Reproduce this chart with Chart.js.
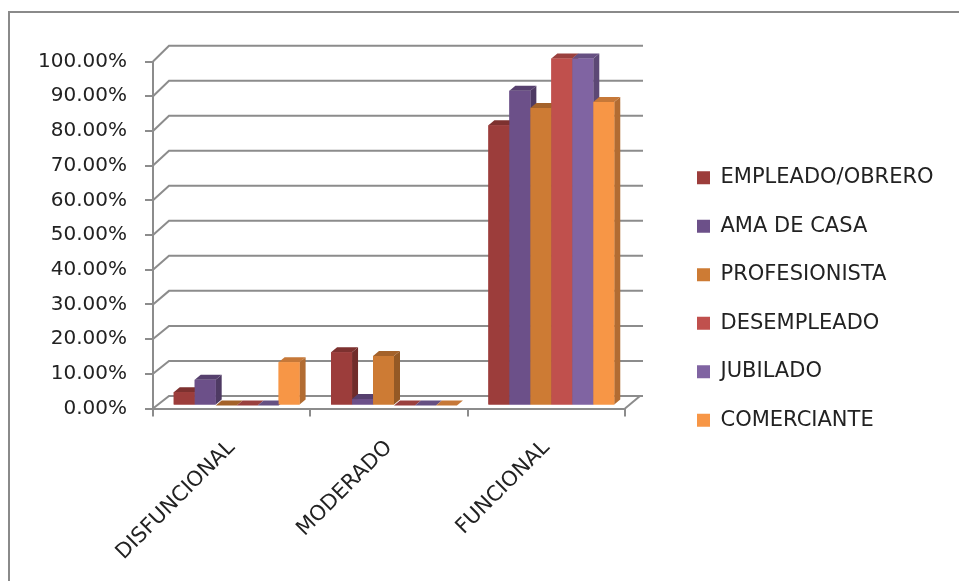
<!DOCTYPE html>
<html>
<head>
<meta charset="utf-8">
<script src="https://cdn.jsdelivr.net/npm/chart.js@4.4.1/dist/chart.umd.min.js"></script>
<style>
  html, body { margin: 0; padding: 0; background: #ffffff; }
  #wrap { width: 959px; height: 581px; }
</style>
</head>
<body>
<div id="wrap"><canvas id="chart" width="959" height="581"></canvas></div>
<script>
// Categories and series (percent of each occupation group)
const categories = ['DISFUNCIONAL', 'MODERADO', 'FUNCIONAL'];
const seriesNames = ['EMPLEADO/OBRERO', 'AMA DE CASA', 'PROFESIONISTA', 'DESEMPLEADO', 'JUBILADO', 'COMERCIANTE'];
const empleadoObrero = [3.85, 15.38, 80.77];
const amaDeCasa = [7.41, 1.85, 90.74];
const profesionista = [0, 14.29, 85.71];
const desempleado = [0, 0, 100];
const jubilado = [0, 0, 100];
const comerciante = [12.5, 0, 87.5];
const yTickValues = [0, 10, 20, 30, 40, 50, 60, 70, 80, 90, 100];
const seriesColors = ['#9C3D3B', '#6C5089', '#CD7B34', '#C0504D', '#8064A2', '#F79646'];

const seriesValues = [empleadoObrero, amaDeCasa, profesionista, desempleado, jubilado, comerciante];

// 3-D look: back wall depth, bar depth and bar placement inside the floor
const WALL_DX = 16;
function wallLift(v) { return 12.6 + 3.1 * v / 100; }
const BAR_SHIFT = { x: 5, y: -3 };
const BAR_DEPTH = { x: 6, y: -5 };
const LINE_GREY = '#8c8c8c';

function shade(hex, f) {
  const n = parseInt(hex.slice(1), 16);
  const r = Math.round(((n >> 16) & 255) * f);
  const g = Math.round(((n >> 8) & 255) * f);
  const b = Math.round((n & 255) * f);
  return 'rgb(' + r + ',' + g + ',' + b + ')';
}

const frame3d = {
  id: 'frame3d',
  beforeDraw(chart) {
    const { ctx, width, height, chartArea } = chart;
    const yScale = chart.scales.y;
    ctx.save();
    ctx.fillStyle = '#ffffff';
    ctx.fillRect(0, 0, width, height);
    // outer frame
    ctx.strokeStyle = '#8a8a8a';
    ctx.lineWidth = 2;
    ctx.beginPath();
    ctx.moveTo(9, height + 4);
    ctx.lineTo(9, 12);
    ctx.lineTo(width + 4, 12);
    ctx.stroke();
    // back wall gridlines with their side-wall diagonals
    ctx.strokeStyle = LINE_GREY;
    ctx.lineWidth = 2;
    yTickValues.forEach(v => {
      const fy = yScale.getPixelForValue(v);
      const by = fy - wallLift(v);
      ctx.beginPath();
      ctx.moveTo(chartArea.left, fy);
      ctx.lineTo(chartArea.left + WALL_DX, by);
      ctx.lineTo(chartArea.right + 18, by);
      ctx.stroke();
    });
    // right edge of the floor
    const fy0 = yScale.getPixelForValue(0);
    ctx.beginPath();
    ctx.moveTo(chartArea.right, fy0);
    ctx.lineTo(chartArea.right + 15, fy0 - wallLift(0));
    ctx.stroke();
    ctx.restore();
  },
  beforeDatasetsDraw(chart) {
    chart.ctx.save();
    chart.ctx.translate(BAR_SHIFT.x, BAR_SHIFT.y);
  },
  afterDatasetsDraw(chart) {
    // paint the columns left to right: side, top, then the front face on top
    const ctx = chart.ctx;
    const dx = BAR_DEPTH.x, dy = BAR_DEPTH.y;
    chart.data.datasets.forEach((ds, i) => {
      const meta = chart.getDatasetMeta(i);
      const col = ds.backgroundColor;
      meta.data.forEach(bar => {
        const { x, y, base, width } = bar.getProps(['x', 'y', 'base', 'width'], true);
        const l = x - width / 2, r = x + width / 2;
        const top = Math.min(y, base), bottom = Math.max(y, base);
        ctx.fillStyle = shade(col, 0.72);
        ctx.beginPath();
        ctx.moveTo(r, top);
        ctx.lineTo(r + dx, top + dy);
        ctx.lineTo(r + dx, bottom + dy);
        ctx.lineTo(r, bottom);
        ctx.closePath();
        ctx.fill();
        ctx.fillStyle = shade(col, 0.8);
        ctx.beginPath();
        ctx.moveTo(l, top);
        ctx.lineTo(l + dx, top + dy);
        ctx.lineTo(r + dx, top + dy);
        ctx.lineTo(r, top);
        ctx.closePath();
        ctx.fill();
        bar.draw(ctx);
      });
    });
    ctx.restore();
  }
};

const datasets = seriesNames.map((name, i) => ({
  label: name,
  data: seriesValues[i],
  backgroundColor: seriesColors[i],
  borderWidth: 0,
  barPercentage: 1.0,
  categoryPercentage: 0.8,
  clip: false
}));

new Chart(document.getElementById('chart'), {
  type: 'bar',
  data: { labels: categories, datasets },
  plugins: [frame3d],
  options: {
    responsive: false,
    animation: false,
    events: [],
    layout: { padding: { top: 17, left: 0, right: 17.5, bottom: 0 } },
    scales: {
      x: {
        grid: { display: true, drawOnChartArea: false, drawTicks: true, tickLength: 8, offset: true, color: LINE_GREY, lineWidth: 2 },
        border: { display: true, color: LINE_GREY, width: 2 },
        ticks: {
          autoSkip: false, minRotation: 45, maxRotation: 45, padding: 19,
          color: '#222222', font: { family: 'DejaVu Sans', size: 21 }
        },
        afterFit(s) { s.height = 172.5; }
      },
      y: {
        min: 0, max: 100,
        grid: { display: true, drawOnChartArea: false, drawTicks: true, tickLength: 8, color: LINE_GREY, lineWidth: 2 },
        border: { display: true, color: LINE_GREY, width: 2 },
        ticks: {
          stepSize: 10, padding: 18, color: '#222222',
          font: { family: 'DejaVu Sans', size: 20 },
          callback: v => v.toFixed(2) + '%'
        },
        afterFit(s) { s.width = 153; }
      },
      depthGap: {
        type: 'linear', position: 'right', display: true,
        grid: { display: false }, border: { display: false }, ticks: { display: false },
        afterFit(s) { s.width = 44.5; }
      }
    },
    plugins: {
      title: { display: true, text: '', fullSize: false, padding: { top: 34.5, bottom: 0 }, font: { size: 10, lineHeight: 1 } },
      tooltip: { enabled: false },
      legend: {
        position: 'right',
        maxWidth: 272,
        labels: {
          boxWidth: 13, boxHeight: 13, padding: 27.5,
          color: '#222222', font: { family: 'DejaVu Sans', size: 21 }
        }
      }
    }
  }
});
</script>
</body>
</html>
